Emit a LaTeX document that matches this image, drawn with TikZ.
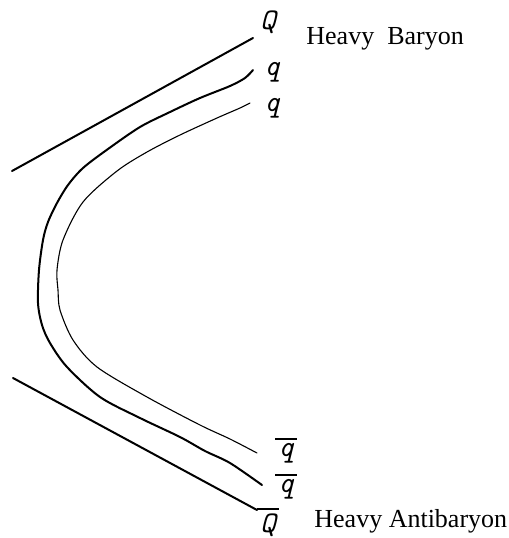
\documentclass[tikz,border=0pt]{standalone}
\usepackage{fontspec}
\setmainfont{Liberation Serif}
\newcommand{\barlbl}[1]{\setbox0\hbox{#1}\vbox{\offinterlineskip\hbox to \wd0{\hss\rule{1.35\wd0}{1pt}\hss}\kern1.6pt\box0}}
\begin{document}
\begin{tikzpicture}[x=0.5pt,y=-0.5pt,
  thickline/.style={line width=1pt,line cap=round,line join=round},
  thinline/.style={line width=0.55pt,line cap=round,line join=round},
  qlabel/.style={font=\ttfamily\itshape\fontsize{15}{17}\selectfont,inner sep=0pt},
  txt/.style={font=\fontsize{13}{15}\selectfont,inner sep=0pt,anchor=west}]
\useasboundingbox (0,0) rectangle (509,538);
% straight heavy-quark lines
\coordinate (t1) at (12,171);
\coordinate (t2) at (253,38);
\coordinate (b1) at (13,378);
\coordinate (b2) at (257,510);
\draw[thickline] (t1) -- (t2);
\draw[thickline] (b1) -- (b2);
% outer light quark line
\draw[thickline] plot[smooth,tension=0.5] coordinates {(253,70) (245,78) (230,86) (200,98) (170,112) (140,127) (108,149) (83,168) (68,185) (57,203) (48,222) (43,240) (39,270) (38,303) (42,325) (50,343) (67,367) (100,397) (140,418) (180,437) (205,451) (230,463) (262,485)};
% inner light quark line
\draw[thinline] plot[smooth,tension=0.5] coordinates {(250,103) (240,108) (217,118) (180,135) (147,152) (117,171) (83,202) (63,240) (57,270) (58,290) (60,310) (73,340) (97,367) (147,397) (200,425) (230,439) (257,453)};
% labels
\node[qlabel] (Q) at (268,22) {Q};
\node[qlabel] (q1) at (272,72) {q};
\node[qlabel] (q2) at (272,108) {q};
\node[qlabel,anchor=base] (qb1) at (286,456) {\barlbl{q}};
\node[qlabel,anchor=base] (qb2) at (286,492) {\barlbl{q}};
\node[qlabel,anchor=base] (Qb) at (268,532) {\barlbl{Q}};
\node[txt] (hb) at (306,39) {Heavy\ \ Baryon};
\node[txt] (ha) at (314,521) {Heavy Antibaryon};
\end{tikzpicture}
\end{document}
